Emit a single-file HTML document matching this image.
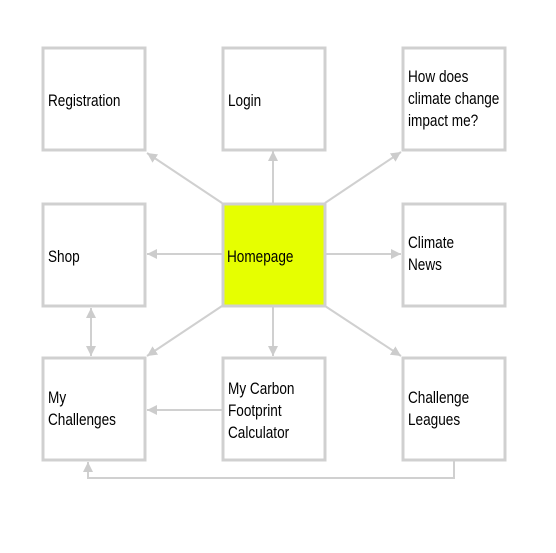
<!DOCTYPE html>
<html><head><style>body{margin:0;background:#fff}svg{display:block}</style></head>
<body>
<svg width="556" height="553" viewBox="0 0 556 553" xmlns="http://www.w3.org/2000/svg">
<defs>
<marker id="a" viewBox="0 0 10 10" refX="10" refY="5" markerWidth="5" markerHeight="5" orient="auto-start-reverse" markerUnits="strokeWidth">
<path d="M0,0 L10,5 L0,10 z" fill="#ccc"/>
</marker>
</defs>
<g stroke="#d0d0d0" stroke-width="2" fill="none">
<line x1="222" y1="203" x2="147" y2="153" marker-end="url(#a)"/>
<line x1="273" y1="203" x2="273" y2="151" marker-end="url(#a)"/>
<line x1="325" y1="203" x2="401" y2="152" marker-end="url(#a)"/>
<line x1="222" y1="254" x2="147" y2="254" marker-end="url(#a)"/>
<line x1="325" y1="254" x2="401" y2="254" marker-end="url(#a)"/>
<line x1="222" y1="306" x2="147" y2="356" marker-end="url(#a)"/>
<line x1="273" y1="306" x2="273" y2="356" marker-end="url(#a)"/>
<line x1="325" y1="306" x2="401" y2="356" marker-end="url(#a)"/>
<line x1="222" y1="410" x2="147" y2="410" marker-end="url(#a)"/>
<line x1="91" y1="308" x2="91" y2="356" marker-start="url(#a)" marker-end="url(#a)"/>
<polyline points="454,460 454,478 88,478 88,462" marker-end="url(#a)"/>
</g>
<g stroke="#d0d0d0" stroke-width="3" fill="#fff">
<rect x="43" y="48" width="102" height="102"/>
<rect x="223" y="48" width="102" height="102"/>
<rect x="403" y="48" width="102" height="102"/>
<rect x="43" y="204" width="102" height="102"/>
<rect x="223" y="204" width="102" height="102" fill="#e6ff00"/>
<rect x="403" y="204" width="102" height="102"/>
<rect x="43" y="358" width="102" height="102"/>
<rect x="223" y="358" width="102" height="102"/>
<rect x="403" y="358" width="102" height="102"/>
</g>
<g font-family="Liberation Sans, sans-serif" font-size="17" fill="#000">
<g transform="translate(48,106) scale(0.8,1)"><text>Registration</text></g>
<g transform="translate(228,106) scale(0.8,1)"><text>Login</text></g>
<g transform="translate(408,82) scale(0.8,1)"><text>How does</text><text y="22">climate change</text><text y="44">impact me?</text></g>
<g transform="translate(48,262) scale(0.8,1)"><text>Shop</text></g>
<g transform="translate(227,262) scale(0.8,1)"><text>Homepage</text></g>
<g transform="translate(408,248) scale(0.8,1)"><text>Climate</text><text y="22">News</text></g>
<g transform="translate(48,403) scale(0.8,1)"><text>My</text><text y="22">Challenges</text></g>
<g transform="translate(228,394) scale(0.8,1)"><text>My Carbon</text><text y="22">Footprint</text><text y="44">Calculator</text></g>
<g transform="translate(408,403) scale(0.8,1)"><text>Challenge</text><text y="22">Leagues</text></g>
</g>
</svg>
</body></html>
